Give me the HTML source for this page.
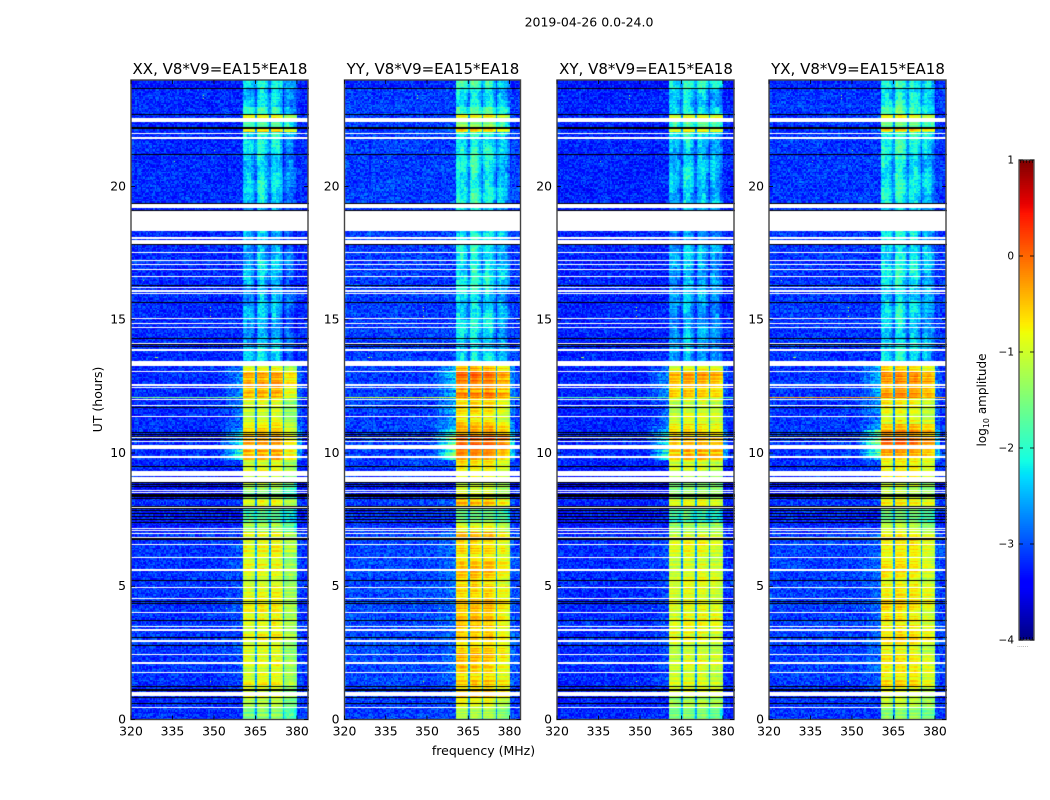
<!DOCTYPE html>
<html lang="en">
<head>
<meta charset="utf-8">
<title>2019-04-26 0.0-24.0</title>
<style>
html,body{margin:0;padding:0;background:#fff;}
#figure{position:relative;width:1050px;height:800px;overflow:hidden;background:#fff;font-family:"DejaVu Sans","Liberation Sans",sans-serif;}
canvas{position:absolute;display:block;}
#overlay{position:absolute;left:0;top:0;}
#overlay text{font-family:"DejaVu Sans","Liberation Sans",sans-serif;fill:#000;}
</style>
</head>
<body>
<div id="figure">
<svg id="overlay" width="1050" height="800" viewBox="0 0 1050 800">
<text x="589" y="26.5" text-anchor="middle" font-size="12.5">2019-04-26 0.0-24.0</text>
<text x="483.5" y="755" text-anchor="middle" font-size="12.5">frequency (MHz)</text>
<text transform="translate(102,399.5) rotate(-90)" text-anchor="middle" font-size="12.5">UT (hours)</text>
<text transform="translate(986,400) rotate(-90)" text-anchor="middle" font-size="12">log<tspan font-size="8" dy="3">10</tspan><tspan dy="-3"> amplitude</tspan></text>
</svg>
</div>
<script>
// ---- Chart data ----
const panelTitles = ["XX, V8*V9=EA15*EA18","YY, V8*V9=EA15*EA18","XY, V8*V9=EA15*EA18","YX, V8*V9=EA15*EA18"];
const xTicks = [320,335,350,365,380];
const yTicks = [0,5,10,15,20];
const colorTicks = [-4,-3,-2,-1,0,1];
const colorTickLabels = ["\u22124","\u22123","\u22122","\u22121","0","1"];

// Start hour of each time segment
const timeBreaks = [0,0.46,0.85,1.3,1.45,2,2.5,3,3.5,4,4.5,5,5.5,5.9,6.3,6.7,7.05,7.4,7.95,8.3,8.7,9,9.4,9.75,10.05,10.3,10.6,10.85,11.1,11.45,11.8,12.05,12.3,12.6,12.85,13.05,13.25,13.4,14,16,18,19.4,21.3,21.9,22.05,22.2,22.45,22.7,23,23.7];
// log10 amplitude inside the 360-380 MHz band for each segment
const bandXX = [-1.55,-1.2,-1,-0.8,-1.05,-0.95,-1.1,-0.95,-0.95,-0.85,-0.95,-1,-0.9,-1.05,-0.9,-0.85,-1.3,-1.8,-0.95,-1.4,-1.3,-1,-1,-0.55,-0.35,-0.3,-0.55,-0.75,-1,-1.05,-1,-0.5,-0.65,-0.45,-0.35,-0.85,-1.25,-2.45,-2.55,-2.5,-2.55,-2.35,-2.3,-2.1,-0.6,-1.7,-0.85,-2.05,-2.4,-2.05];
const bandYY = [-1.2,-0.9,-0.7,-0.45,-0.6,-0.5,-0.6,-0.55,-0.55,-0.5,-0.6,-0.6,-0.55,-0.65,-0.55,-0.5,-1,-1.5,-0.5,-1.1,-1,-0.75,-0.7,-0.3,-0.1,-0.05,-0.25,-0.4,-0.7,-0.75,-0.7,-0.15,-0.3,-0.1,-0.05,-0.5,-1,-2.25,-2.25,-2.15,-2.2,-2.1,-2.1,-1.9,-0.65,-1.5,-0.85,-1.85,-2.15,-1.9];
const bandXY = [-1.6,-1.25,-1.05,-0.9,-1.1,-1,-1.1,-0.95,-0.95,-0.9,-1,-1,-0.95,-1.05,-0.95,-0.9,-1.35,-1.85,-1,-1.45,-1.35,-1.05,-1.05,-0.6,-0.45,-0.4,-0.6,-0.8,-1.05,-1.1,-1.05,-0.55,-0.7,-0.5,-0.45,-0.9,-1.3,-2.5,-2.6,-2.55,-2.6,-2.4,-2.35,-2.15,-0.8,-1.8,-0.95,-2.1,-2.4,-2.1];
const bandYX = [-1.4,-1.05,-0.85,-0.6,-0.85,-0.75,-0.9,-0.75,-0.75,-0.7,-0.8,-0.8,-0.75,-0.85,-0.75,-0.7,-1.15,-1.6,-0.75,-1.2,-1.1,-0.85,-0.85,-0.4,-0.2,-0.15,-0.4,-0.55,-0.85,-0.9,-0.85,-0.3,-0.45,-0.25,-0.2,-0.65,-1.1,-2.3,-2.3,-2.2,-2.25,-2.15,-2.1,-1.95,-0.65,-1.55,-0.9,-1.85,-2.15,-1.9];
// Out-of-band level and the glow next to the band for each segment
const backgroundLevel = [-3.12,-3.12,-3.12,-3.12,-3.07,-3.07,-3.07,-3.07,-3.07,-3.07,-3.07,-3.07,-3.07,-3.07,-3.07,-3.07,-3.18,-3.18,-3.12,-3.28,-3.28,-3.2,-3.15,-3.12,-3.12,-3.12,-3.12,-3.12,-3.12,-3.12,-3.12,-3.12,-3.12,-3.12,-3.12,-3.12,-3.12,-3.12,-3.12,-3.12,-3.12,-3.12,-3.12,-3.12,-3.15,-3.15,-3.15,-3.12,-3.12,-3.2];
const glowLevel = [0,0,0.1,0.15,0.15,0.15,0.15,0.15,0.15,0.15,0.15,0.15,0.15,0.15,0.15,0.15,0,0,0.1,0,0,0,0.1,1.2,1.25,1.25,1.1,0.5,0.4,0.4,0.35,0.5,0.5,0.55,0.55,0.45,0.3,0,0,0,0,0,0,0,0.2,0,0.1,0,0,0];
const panelBackground = [-0.06,0.04,-0.1,0];
const panelGlow = [1,1.35,1,1.25];
// Gain of the four 5 MHz sub-bands per panel
const subGainXX = [0,0.05,0.08,-0.35];
const subGainYY = [0,0,0,-0.25];
const subGainXY = [-0.05,0.05,0.05,-0.05];
const subGainYX = [0,0.05,0,-0.2];
// Shape across the band, in 0.5 MHz channels from 360 MHz
const bandShape = [-0.1,-0.04,0.02,0.05,0.04,0.05,0.02,-0.02,-0.1,-0.2,-0.08,0,0.05,0.06,0.03,0.05,0.02,-0.03,-0.1,-0.2,-0.08,-0.02,0.04,0.06,0.05,0.03,0.04,-0.01,-0.1,-0.2,-0.09,-0.03,0.02,0.05,0.06,0.04,0.02,-0.02,-0.08,-0.15];
// Extra shape seen only while the band is faint
const faintBandShape = [-0.15,-0.05,0,-0.05,-0.1,-0.05,-0.05,-0.1,-0.15,-0.25,-0.25,-0.05,0.1,0.15,0.15,0.1,0.05,-0.05,-0.15,-0.25,-0.25,-0.15,-0.1,-0.05,0,-0.05,-0.05,-0.1,-0.15,-0.25,-0.25,-0.15,-0.05,0,-0.05,-0.1,-0.1,-0.15,-0.25,-0.35];
const notchMHz = [365,370,375];
const bandEdges = [360.6,380];
// Flagged time ranges [low hour, high hour]
const whiteLow = [0.443,0.882,1.734,2.094,2.42,2.908,3.332,3.471,3.996,4.51,4.934,5.572,6.071,6.548,6.822,6.961,7.062,7.16,7.936,8.499,8.574,8.912,9.137,9.812,10.15,10.413,10.574,11.34,11.752,11.989,12.428,12.525,13.051,13.253,13.827,13.891,14.116,14.69,14.829,15.066,15.966,16.053,16.18,16.604,16.878,17.043,17.193,17.493,17.842,18.018,18.349,19.182,21.771,21.97,22.439];
const whiteHigh = [0.468,1.02,1.771,2.146,2.458,2.994,3.396,3.52,4.034,4.548,4.962,5.636,6.109,6.585,6.86,7,7.099,7.197,7.974,8.537,8.612,9.111,9.336,9.875,10.289,10.45,10.612,11.377,11.79,12.015,12.465,12.578,13.088,13.452,13.854,13.921,14.139,14.728,14.867,15.084,16.015,16.105,16.229,16.642,16.916,17.092,17.242,17.542,17.992,18.094,19.081,19.343,21.869,22.019,22.57];
const blackLow = [0.57,0.82,1.08,1.22,2.747,3.047,3.696,4.323,4.42,5.197,6.735,7.37,7.5,7.62,7.73,7.83,7.92,8.0,8.26,8.36,8.74,8.79,8.87,9.485,10.5,10.62,10.68,10.77,11.69,13.966,14.05,14.29,15.04,15.62,16.278,17.814,19.09,19.355,21.18,22.16,22.22,22.7,23.67];
const blackHigh = [0.608,0.844,1.144,1.257,2.797,3.084,3.734,4.371,4.457,5.235,6.81,7.4,7.53,7.65,7.76,7.86,7.95,8.03,8.3,8.45,8.77,8.82,8.9,9.523,10.537,10.65,10.71,10.8,11.727,14.0,14.09,14.33,15.07,15.655,16.316,17.83,19.12,19.4,21.22,22.19,22.25,22.74,23.71];
// Interference rows across the full band, per panel
const hotRowHours = [12.06,10.28,12.55];
const hotRowXX = [-1.5,-2.2,-2.3];
const hotRowYY = [-1,-1.3,-1.6];
const hotRowXY = [-1.7,-2.2,-2.3];
const hotRowYX = [-0.35,-1.5,-1.9];
// Isolated interference pixels
const rfiHours = [23.43,23.32,16.49,15.48,15.37,15.14,13.6,13.6,13.6,21.37,20.96,1.44,4.18];
const rfiMHz = [346.2,346.2,324.2,348.5,348.5,348.5,328.5,329,329.5,350,335.5,348.5,354.3];
const rfiLevels = [-1.2,-1.2,-1.5,-0.9,-1.2,-0.9,-1.4,-1,-1.4,-1.3,-1.4,-0.9,-1.4];
// Hand-written speckle, row streak and mottle tables: approximate the grain, not individual cells
const speckle = [.12,-.22,.05,.31,-.09,-.28,.18,.02,-.15,.26,-.33,.08,-.04,.21,-.19,.34,-.11,0,.16,-.26,.07,-.31,.24,-.06,.13,-.2,.29,-.13,.03,-.24,.19,.1,-.35,.15,-.02,.27,-.17,.06,-.29,.22,-.08,.33,-.14,.01,.17,-.23,.11,-.3,.25,-.05,.09,-.18,.32,-.12,.04,-.27,.2,-.1,.14,-.34,.28,-.03,.07,-.21,.23,-.16,.3,-.07,0,-.25,.12,.18,-.32,.06,-.13,.26,-.2,.1,-.01,.35,-.28,.03,-.15,.21,-.09,.16,-.24,.08,-.19,.31,-.04,.13,-.3,.24,-.11,.02,-.17];
const rowStreak = [.06,-.1,.02,.12,-.04,-.12,.09,-.02,.05,-.08,.11,-.06,.01,.1,-.11,.04,-.03,.08,-.09,.07,-.01,-.07,.12,-.05,.03,-.12,.1,0,-.08,.06,-.02,.09,-.1,.04,.11,-.06,-.03,.07,-.11,.02,.08];
const mottle = [.4,-.7,.9,-.2,.6,-1,.1,.8,-.5,.3,-.9,.7,-.1,.5,-.8,1,-.3,.2,-.6,.9,-.4,0,.7,-.9,.3,-.2,.8,-.7,.5,-.5,.1];

const bandByPanel = [bandXX,bandYY,bandXY,bandYX];
const subGainByPanel = [subGainXX,subGainYY,subGainXY,subGainYX];
const hotRowByPanel = [hotRowXX,hotRowYY,hotRowXY,hotRowYX];

// ---- Geometry ----
const panelLeft = [131,344.5,557,769];
const panelWidth = [177,176,177,177];
const plotTop = 80, plotBottom = 719.5;
const hourMin = 0, hourMax = 24, freqMin = 320, freqMax = 384;
const freqStep = 0.5, hourStep = 0.05;
const cbarLeft = 1019, cbarRight = 1034, cbarTop = 160, cbarBottom = 640;
const valueMin = -4, valueMax = 1;

function xScale(p, f) { return panelLeft[p] + (f - freqMin) / (freqMax - freqMin) * panelWidth[p]; }
function yScale(h) { return plotBottom - (h - hourMin) / (hourMax - hourMin) * (plotBottom - plotTop); }
function cbarScale(v) { return cbarBottom - (v - valueMin) / (valueMax - valueMin) * (cbarBottom - cbarTop); }

// matplotlib "jet"
function jetChannel(t, pts) {
  for (let i = 1; i < pts.length; i++) {
    if (t <= pts[i][0]) {
      const a = pts[i-1], b = pts[i];
      return a[1] + (b[1]-a[1]) * (t-a[0]) / (b[0]-a[0]);
    }
  }
  return pts[pts.length-1][1];
}
const jetR = [[0,0],[0.35,0],[0.66,1],[0.89,1],[1,0.5]];
const jetG = [[0,0],[0.125,0],[0.375,1],[0.64,1],[0.91,0],[1,0]];
const jetB = [[0,0.5],[0.11,1],[0.34,1],[0.65,0],[1,0]];
function colorOf(v) {
  const t = Math.max(0, Math.min(1, (v - valueMin) / (valueMax - valueMin)));
  const r = Math.round(255*jetChannel(t, jetR));
  const g = Math.round(255*jetChannel(t, jetG));
  const b = Math.round(255*jetChannel(t, jetB));
  return "rgb(" + r + "," + g + "," + b + ")";
}
const colorTable = [];
for (let i = 0; i <= 500; i++) colorTable.push(colorOf(valueMin + (valueMax-valueMin)*i/500));
function tableColor(v) {
  const i = Math.max(0, Math.min(500, Math.round((v-valueMin)/(valueMax-valueMin)*500)));
  return colorTable[i];
}

function segmentOf(h) {
  let s = 0;
  while (s + 1 < timeBreaks.length && timeBreaks[s+1] <= h) s++;
  return s;
}

function cellValue(p, r, c, f, h, seg) {
  const sp = speckle[(r*37 + c*59 + (r%13)*(c%17) + p*23) % speckle.length];
  const st = rowStreak[(r + p*5) % rowStreak.length];
  const mo = mottle[(Math.floor(r/5)*7 + Math.floor(c/3)*11 + p*3) % mottle.length];
  let v;
  if (f >= bandEdges[0] && f < bandEdges[1]) {
    const i = Math.floor((f-360)/freqStep);
    const sub = Math.min(3, Math.floor((f-360)/5));
    v = bandByPanel[p][seg] + subGainByPanel[p][sub] + bandShape[i];
    const faint = v < -1.7;
    if (faint) v += faintBandShape[i];
    for (let n = 0; n < notchMHz.length; n++) {
      if (f >= notchMHz[n] && f < notchMHz[n] + freqStep) v = faint ? v - 0.25 : Math.min(v - 0.35, -2.6);
    }
    v += sp * (faint ? 0.7 : 0.2) + st * (faint ? 0.5 : 2.0) + mo * (faint ? 0.22 : 0.1);
  } else {
    v = backgroundLevel[seg] + panelBackground[p];
    const glow = glowLevel[seg] * panelGlow[p];
    if (f > 352 && f < bandEdges[0]) v += (glow + st * 3 * glow) * (f-352)/(bandEdges[0]-352);
    if (f >= bandEdges[1] && f < 382) v += glow * 0.45;
    v += sp + st * 0.25 + mo * 0.04;
  }
  for (let k = 0; k < hotRowHours.length; k++) {
    if (Math.abs(h - hotRowHours[k]) < hourStep/2) v = Math.max(v, hotRowByPanel[p][k] + sp*0.15);
  }
  return v;
}

const figure = document.getElementById("figure");
const overlay = document.getElementById("overlay");
const NS = "http://www.w3.org/2000/svg";

function drawFlagBands(ctx, p, lows, highs, color) {
  ctx.fillStyle = color;
  for (let i = 0; i < lows.length; i++) {
    const yA = Math.round(yScale(highs[i]) - plotTop);
    const yB = Math.round(yScale(lows[i]) - plotTop);
    ctx.fillRect(0, yA, panelWidth[p] + 2, Math.max(1, yB - yA));
  }
}

function drawHeatmap(p) {
  const cv = document.createElement("canvas");
  
  
  const left = Math.floor(panelLeft[p]);
  cv.width = Math.ceil(panelWidth[p]) + 1;
  cv.height = Math.ceil(plotBottom - plotTop);
  cv.style.left = left + "px";
  cv.style.top = plotTop + "px";
  figure.insertBefore(cv, overlay);
  const ctx = cv.getContext("2d");
  ctx.fillStyle = "#fff";
  ctx.fillRect(0, 0, cv.width, cv.height);
  const nRows = Math.round((hourMax-hourMin)/hourStep);
  const nCols = Math.round((freqMax-freqMin)/freqStep);
  for (let r = 0; r < nRows; r++) {
    const h = hourMin + (r+0.5)*hourStep;
    const seg = segmentOf(h);
    const yA = Math.round(yScale(hourMin + (r+1)*hourStep) - plotTop);
    const yB = Math.round(yScale(hourMin + r*hourStep) - plotTop);
    for (let c = 0; c < nCols; c++) {
      const f = freqMin + (c+0.5)*freqStep;
      const xA = Math.round(xScale(p, freqMin + c*freqStep)) - left;
      const xB = Math.round(xScale(p, freqMin + (c+1)*freqStep)) - left;
      ctx.fillStyle = tableColor(cellValue(p, r, c, f, h, seg));
      ctx.fillRect(xA, yA, xB-xA, yB-yA);
    }
  }
  for (let i = 0; i < rfiHours.length; i++) {
    ctx.fillStyle = tableColor(rfiLevels[i]);
    ctx.fillRect(Math.round(xScale(p, rfiMHz[i])) - left, Math.round(yScale(rfiHours[i]) - plotTop), 1, 1);
  }
  drawFlagBands(ctx, p, blackLow, blackHigh, "#000");
  drawFlagBands(ctx, p, whiteLow, whiteHigh, "#fff");
}

function drawAxes(p) {
  const g = document.createElementNS(NS, "g");
  
  
  overlay.appendChild(g);

  const frame = document.createElementNS(NS, "rect");
  
  
  frame.setAttribute("x", panelLeft[p]);
  frame.setAttribute("y", plotTop);
  frame.setAttribute("width", panelWidth[p]);
  frame.setAttribute("height", plotBottom - plotTop);
  frame.setAttribute("fill", "none");
  frame.setAttribute("stroke", "#444");
  frame.setAttribute("stroke-width", "1.4");
  g.appendChild(frame);

  const title = document.createElementNS(NS, "text");
  
  
  title.setAttribute("x", panelLeft[p] + panelWidth[p]/2 + 0.5);
  title.setAttribute("y", 74);
  title.setAttribute("text-anchor", "middle");
  title.setAttribute("font-size", "15");
  title.textContent = panelTitles[p];
  g.appendChild(title);

  xTicks.forEach(function (t) {
    const x = xScale(p, t);
    [[plotBottom, plotBottom-4], [plotTop, plotTop+4]].forEach(function (pair) {
      const tick = document.createElementNS(NS, "line");
      
      
      tick.setAttribute("x1", x);
      tick.setAttribute("x2", x);
      tick.setAttribute("y1", pair[0]);
      tick.setAttribute("y2", pair[1]);
      tick.setAttribute("stroke", "#000");
      tick.setAttribute("stroke-width", "0.8");
      g.appendChild(tick);
    });
    const lab = document.createElementNS(NS, "text");
    
    
    lab.setAttribute("x", x);
    lab.setAttribute("y", 735.5);
    lab.setAttribute("text-anchor", "middle");
    lab.setAttribute("font-size", "12.4");
    lab.textContent = String(t);
    g.appendChild(lab);
  });

  yTicks.forEach(function (t) {
    const y = yScale(t);
    [[panelLeft[p], panelLeft[p]+4], [panelLeft[p]+panelWidth[p], panelLeft[p]+panelWidth[p]-4]].forEach(function (pair) {
      const tick = document.createElementNS(NS, "line");
      
      
      tick.setAttribute("x1", pair[0]);
      tick.setAttribute("x2", pair[1]);
      tick.setAttribute("y1", y);
      tick.setAttribute("y2", y);
      tick.setAttribute("stroke", "#000");
      tick.setAttribute("stroke-width", "0.8");
      g.appendChild(tick);
    });
    const lab = document.createElementNS(NS, "text");
    
    
    lab.setAttribute("x", panelLeft[p] - 5);
    lab.setAttribute("y", y + 3.8);
    lab.setAttribute("text-anchor", "end");
    lab.setAttribute("font-size", "12.4");
    lab.textContent = String(t);
    g.appendChild(lab);
  });
}

function drawColorbar() {
  const g = document.createElementNS(NS, "g");
  
  
  overlay.appendChild(g);
  const steps = 256;
  for (let i = 0; i < steps; i++) {
    const vLow = valueMin + (valueMax-valueMin)*i/steps;
    const vHigh = valueMin + (valueMax-valueMin)*(i+1)/steps;
    const swatch = document.createElementNS(NS, "rect");
    
    
    swatch.setAttribute("x", cbarLeft);
    swatch.setAttribute("y", cbarScale(vHigh));
    swatch.setAttribute("width", cbarRight - cbarLeft);
    swatch.setAttribute("height", cbarScale(vLow) - cbarScale(vHigh) + 0.6);
    swatch.setAttribute("fill", colorOf((vLow+vHigh)/2));
    g.appendChild(swatch);
  }
  const border = document.createElementNS(NS, "rect");
  
  
  border.setAttribute("x", cbarLeft);
  border.setAttribute("y", cbarTop);
  border.setAttribute("width", cbarRight - cbarLeft);
  border.setAttribute("height", cbarBottom - cbarTop);
  border.setAttribute("fill", "none");
  border.setAttribute("stroke", "#555");
  border.setAttribute("stroke-width", "1.4");
  g.appendChild(border);

  colorTicks.forEach(function (t, i) {
    const y = cbarScale(t);
    [[cbarLeft, cbarLeft+4], [cbarRight, cbarRight-4]].forEach(function (pair) {
      const tick = document.createElementNS(NS, "line");
      
      
      tick.setAttribute("x1", pair[0]);
      tick.setAttribute("x2", pair[1]);
      tick.setAttribute("y1", y);
      tick.setAttribute("y2", y);
      tick.setAttribute("stroke", "#000");
      tick.setAttribute("stroke-width", "0.8");
      g.appendChild(tick);
    });
    const lab = document.createElementNS(NS, "text");
    
    
    lab.setAttribute("x", 1014);
    lab.setAttribute("y", y + 3.5);
    lab.setAttribute("text-anchor", "end");
    lab.setAttribute("font-size", "10.5");
    lab.textContent = colorTickLabels[i];
    g.appendChild(lab);
  });

  for (let i = 0; i < 5; i++) {
    const x = cbarLeft + 1.5 + i*3;
    [[cbarTop, cbarTop+3], [cbarBottom, cbarBottom-3]].forEach(function (pair) {
      const tick = document.createElementNS(NS, "line");
      
      
      tick.setAttribute("x1", x);
      tick.setAttribute("x2", x);
      tick.setAttribute("y1", pair[0]);
      tick.setAttribute("y2", pair[1]);
      tick.setAttribute("stroke", "#000");
      tick.setAttribute("stroke-width", "0.6");
      g.appendChild(tick);
    });
  }
  const dots = document.createElementNS(NS, "text");
  
  
  dots.setAttribute("x", 1017);
  dots.setAttribute("y", 647);
  dots.setAttribute("font-size", "6");
  dots.setAttribute("style", "fill:#777");
  dots.textContent = "......";
  g.appendChild(dots);
}

for (let p = 0; p < panelTitles.length; p++) {
  drawHeatmap(p);
  drawAxes(p);
}
drawColorbar();
</script>
</body>
</html>
